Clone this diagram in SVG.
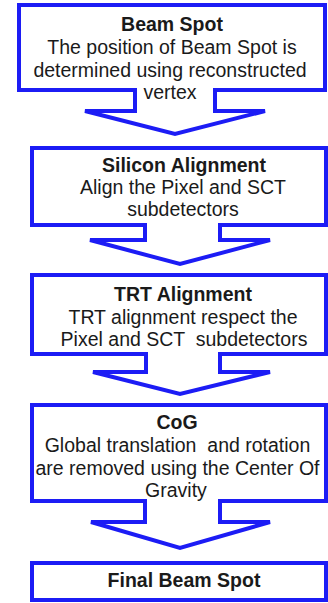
<svg xmlns="http://www.w3.org/2000/svg" width="328" height="603" viewBox="0 0 328 603">
<style>
  .box { fill: none; stroke: #1c1cf5; stroke-width: 4; stroke-linecap: square; stroke-linejoin: miter; }
  .arr { fill: none; stroke: #1c1cf5; stroke-width: 4; stroke-linecap: square; stroke-linejoin: miter; }
  text { font-family: "Liberation Sans", Arial, sans-serif; font-size: 19.5px; fill: #1a1a1a; text-anchor: middle; white-space: pre; }
  .t { font-weight: bold; }
</style>
<rect width="328" height="603" fill="#ffffff"/>
<g id="connectors">
  <path class="arr" d="M135,90 V111 H85 L175,134 L265,111 H215 V90"/>
  <path class="arr" d="M145,225 V240 H90 L180,264 L270,240 H220 V225"/>
  <path class="arr" d="M146,354 V372 H93 L180,394 L270,372 H220 V354"/>
  <path class="arr" d="M145,501 V522 H91 L180,548 L270,522 H220 V501"/>
</g>
<g id="beam-spot">
  <path class="box" d="M135,90 H19 V5 H325 V90 H215"/>
  <text class="t" x="172" y="31">Beam Spot</text>
  <text x="172" y="54">The position of Beam Spot is</text>
  <text x="170" y="77">determined using reconstructed</text>
  <text x="170" y="99">vertex</text>
</g>
<g id="silicon-alignment">
  <path class="box" d="M145,225 H32 V148 H326 V225 H220"/>
  <text class="t" x="184" y="172">Silicon Alignment</text>
  <text x="183" y="194">Align the Pixel and SCT</text>
  <text x="183" y="216">subdetectors</text>
</g>
<g id="trt-alignment">
  <path class="box" d="M146,354 H32 V275 H326 V354 H220"/>
  <text class="t" x="183" y="301">TRT Alignment</text>
  <text x="183" y="324">TRT alignment respect the</text>
  <text x="184" y="346" xml:space="preserve">Pixel and SCT  subdetectors</text>
</g>
<g id="cog">
  <path class="box" d="M145,501 H32 V405 H326 V501 H220"/>
  <text class="t" x="177" y="429">CoG</text>
  <text x="177.5" y="452" xml:space="preserve">Global translation  and rotation</text>
  <text x="177.5" y="475">are removed using the Center Of</text>
  <text x="176" y="497">Gravity</text>
</g>
<g id="final-beam-spot">
  <rect class="box" x="32" y="563" width="294" height="37"/>
  <text class="t" x="184" y="587">Final Beam Spot</text>
</g>
</svg>
